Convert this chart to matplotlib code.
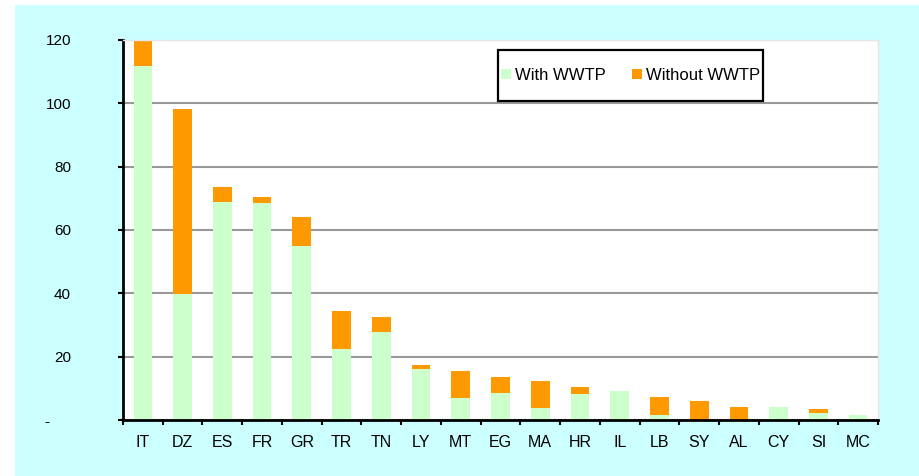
# stacked bars: population served with / without WWTP per country
import numpy as np
import matplotlib.pyplot as plt
from matplotlib.patches import Rectangle

countries = ['IT', 'DZ', 'ES', 'FR', 'GR', 'TR', 'TN', 'LY', 'MT', 'EG',
             'MA', 'HR', 'IL', 'LB', 'SY', 'AL', 'CY', 'SI', 'MC']
with_wwtp = [111.8, 39.8, 68.8, 68.5, 54.9, 22.4, 27.8, 16.1, 6.9, 8.5,
             3.8, 8.2, 9.2, 1.6, 0.0, 0.0, 4.1, 2.2, 1.6]
without_wwtp = [8.5, 58.4, 4.8, 1.9, 9.2, 12.0, 4.7, 1.3, 8.6, 5.1,
                8.5, 2.2, 0.0, 5.7, 6.0, 4.1, 0.0, 1.3, 0.0]
yticks = [0, 20, 40, 60, 80, 100, 120]
ytick_labels = ['-     ', '20', '40', '60', '80', '100', '120']

GREEN = '#CCFFCC'
ORANGE = '#FF9900'
CYAN = '#CCFFFF'

plt.rcParams['font.family'] = ['Liberation Sans', 'DejaVu Sans']

W, H = 919, 476
fig = plt.figure(figsize=(W / 100, H / 100), dpi=100)
fig.patch.set_facecolor('white')
fig.patches.append(Rectangle((15 / W, 0), 1 - 15 / W, (H - 5) / H,
                             transform=fig.transFigure, facecolor=CYAN,
                             edgecolor='none', zorder=-10))

ax = fig.add_axes([123 / W, (H - 420) / H, (878 - 123) / W, 380 / H])
ax.set_facecolor('white')

x = np.arange(len(countries))
ax.bar(x, with_wwtp, width=0.47, color=GREEN, label='With WWTP', zorder=2)
ax.bar(x, without_wwtp, width=0.47, bottom=with_wwtp, color=ORANGE,
       label='Without WWTP', zorder=2)

ax.set_xlim(-0.5, len(countries) - 0.5)
ax.set_ylim(0, 120)
ax.set_yticks(yticks)
ax.set_yticklabels(ytick_labels)
ax.yaxis.grid(True, color='#999999', linewidth=1.5, zorder=1)
ax.set_axisbelow(True)

ax.set_xticks(x)
ax.set_xticklabels(countries)
ax.set_xticks(np.arange(-0.5, len(countries)), minor=True)
ax.tick_params(axis='x', which='major', length=0, pad=11, labelsize=11.5)
ax.tick_params(axis='x', which='minor', length=3.5, width=1.5, direction='out')
ax.tick_params(axis='y', length=3.5, width=1.5, pad=34, labelsize=11)

for side in ['left', 'bottom']:
    ax.spines[side].set_linewidth(2)
    ax.spines[side].set_color('black')
for side in ['top', 'right']:
    ax.spines[side].set_color('#e6e6e6')
    ax.spines[side].set_linewidth(1)

# legend box drawn by hand, legend entries centred in it
ax.add_patch(Rectangle(((498 - 123) / 755, (420 - 101) / 380), 265 / 755, 51 / 380,
                       transform=ax.transAxes, facecolor='white', edgecolor='black',
                       linewidth=1.6, zorder=4))
leg = ax.legend(loc='center', bbox_to_anchor=((630.5 - 123) / 755, (420 - 75.5) / 380),
                ncol=2, fontsize=12, frameon=False,
                handlelength=0.6, handleheight=0.6, handletextpad=0.25,
                columnspacing=1.6, borderpad=0)
leg.set_zorder(5)

fig.savefig('out.png', dpi=100, facecolor=fig.get_facecolor())
